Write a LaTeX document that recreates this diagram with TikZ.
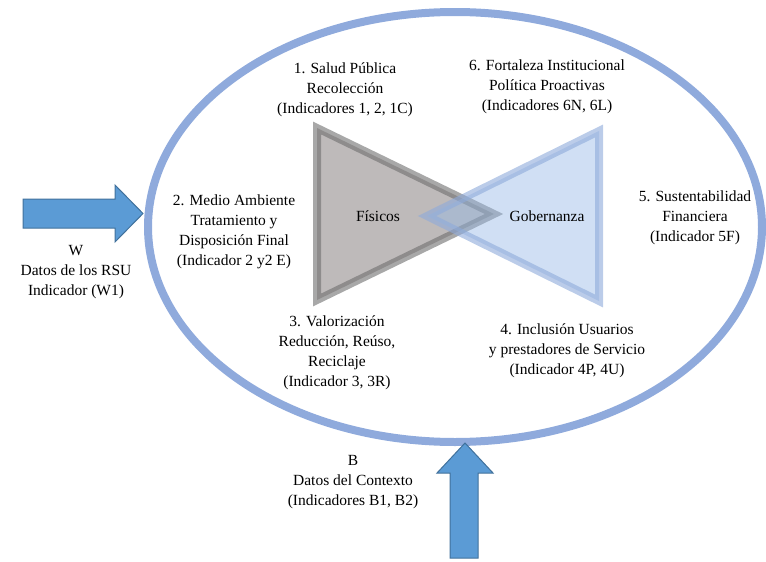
\documentclass[tikz,border=0pt]{standalone}
\usepackage{fontspec}
\newfontfamily\timesfont{LiberationSerif-Regular.ttf}
\usepackage{xcolor}
\usepackage{tikz}
\usetikzlibrary{positioning}
\definecolor{ringblue}{HTML}{8FAADC}
\definecolor{arrowblue}{HTML}{5B9BD5}
\definecolor{arrowedge}{HTML}{41719C}
\definecolor{fisfill}{RGB}{190,186,186}
\definecolor{fisedge}{RGB}{110,110,110}
\definecolor{gobfill}{RGB}{150,185,230}
\definecolor{gobedge}{RGB}{142,170,219}

\tikzset{
  lbl/.style={align=center, font=\timesfont\fontsize{15.5}{20}\selectfont, inner sep=0pt},
  inarrow/.style={fill=arrowblue, draw=arrowedge, line width=1pt, line join=miter},
  tri/.style={line width=8pt, line join=miter, draw opacity=0.6}
}

\begin{document}
\begin{tikzpicture}[x=1pt, y=-1pt]
  \useasboundingbox (0,0) rectangle (766,562);

  % Ring
  \draw[ringblue, line width=8pt] (455,227) ellipse [x radius=307pt, y radius=215pt];

  % Triangles
  \coordinate (fA) at (317,128);
  \coordinate (fB) at (317,300);
  \coordinate (fC) at (494,214);
  \coordinate (gA) at (599,131);
  \coordinate (gB) at (599,301);
  \coordinate (gC) at (427,216);

  \filldraw[tri, fill=fisfill, draw=fisedge] (fA) -- (fC) -- (fB) -- cycle;
  \filldraw[tri, fill=gobfill, fill opacity=0.45, draw=gobedge] (gA) -- (gC) -- (gB) -- cycle;

  % Inputs
  \filldraw[inarrow] (23,199) -- (115,199) -- (115,185) -- (143,213.5)
    -- (115,242) -- (115,228) -- (23,228) -- cycle;
  \filldraw[inarrow] (450,558) -- (450,473) -- (437,473) -- (465,443)
    -- (493,473) -- (478,473) -- (478,558) -- cycle;

  % Labels
  \node[lbl] (fis) at (378,216) {Físicos};
  \node[lbl] (gob) at (547,216) {Gobernanza};
  \node[lbl] (salud) at (345,90) {1. Salud Pública\\Recolección\\(Indicadores 1, 2, 1C)};
  \node[lbl] (medio) at (234,232) {2. Medio Ambiente\\Tratamiento y\\Disposición Final\\(Indicador 2 y2 E)};
  \node[lbl] (valor) at (337,353) {3. Valorización\\Reducción, Reúso,\\Reciclaje\\(Indicador 3, 3R)};
  \node[lbl] (incl) at (567,351) {4. Inclusión Usuarios\\y prestadores de Servicio\\(Indicador 4P, 4U)};
  \node[lbl] (sust) at (695,218) {5. Sustentabilidad\\Financiera\\(Indicador 5F)};
  \node[lbl] (fort) at (547,87) {6. Fortaleza Institucional\\Política Proactivas\\(Indicadores 6N, 6L)};
  \node[lbl] (datW) at (76,272) {W\\Datos de los RSU\\Indicador (W1)};
  \node[lbl] (datB) at (353,482) {B\\Datos del Contexto\\(Indicadores B1, B2)};
\end{tikzpicture}
\end{document}
